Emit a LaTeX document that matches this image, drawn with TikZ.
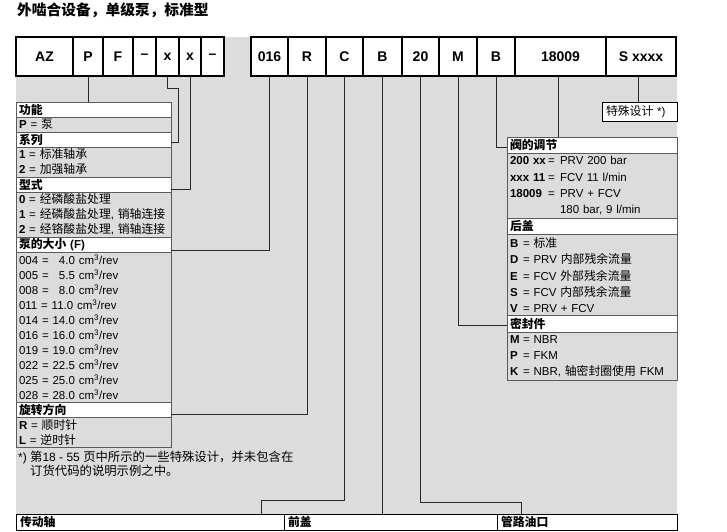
\documentclass[tikz,border=0pt]{standalone}
\usepackage{fontspec}
\setmainfont{Liberation Sans}
\newfontfamily\cjkfont{Noto Sans CJK SC}[Scale=1.03]
\newcommand\zh[1]{{\cjkfont #1}}
\definecolor{panelgray}{RGB}{220,220,220}
\definecolor{legline}{RGB}{90,90,90}
\definecolor{connline}{RGB}{40,40,40}
\newcommand\lgfont{\fontsize{11.5}{15}\selectfont}
\newcommand\rgfont{\fontsize{11.5}{16.25}\selectfont}
\begin{document}
\begin{tikzpicture}[x=1pt,y=-1pt,
  code/.style={draw=black, line width=1.2pt, fill=white, outer sep=0pt,
    font=\fontsize{14}{16}\selectfont\bfseries, minimum height=39pt,
    inner sep=0pt, anchor=north west},
  lhdr/.style={draw=legline, line width=1pt, fill=white, outer sep=0pt,
    font=\lgfont\bfseries, minimum width=155pt, minimum height=15pt,
    inner xsep=3pt, inner ysep=0pt, text width=149pt, align=left, anchor=north west},
  lgrp/.style={lhdr, fill=panelgray, font=\lgfont},
  rhdr/.style={lhdr, font=\rgfont\bfseries, minimum width=170pt, text width=164pt, minimum height=16.25pt},
  rgrp/.style={rhdr, fill=panelgray, font=\rgfont},
  bbox/.style={draw=black, line width=1pt, fill=white, outer sep=0pt,
    font=\lgfont\bfseries, minimum height=16pt, inner xsep=4pt, inner ysep=0pt,
    align=left, anchor=north west},
  conn/.style={draw=connline, line width=0.9pt},
]
\useasboundingbox (0,0) rectangle (727,531);
% background panel
\fill[panelgray] (16,37) rectangle (677,530);
% title
\node[anchor=west, inner sep=0pt, font=\fontsize{14.3}{16}\selectfont\bfseries] (title) at (17,10)
  {\zh{外啮合设备，单级泵，标准型}};
% code row
\node[code, minimum width=57pt] (cAZ) at (16,37) {AZ};
\node[code, minimum width=30pt] (cP) at (73,37) {P};
\node[code, minimum width=30pt] (cF) at (103,37) {F};
\node[code, minimum width=23pt] (cD1) at (133,37) {--};
\node[code, minimum width=23pt] (cX1) at (156,37) {x};
\node[code, minimum width=22pt] (cX2) at (179,37) {x};
\node[code, minimum width=23pt] (cD2) at (201,37) {--};
\node[code, minimum width=37pt] (c016) at (251,37) {016};
\node[code, minimum width=38pt] (cR) at (288,37) {R};
\node[code, minimum width=37pt] (cC) at (326,37) {C};
\node[code, minimum width=39pt] (cB) at (363,37) {B};
\node[code, minimum width=37pt] (c20) at (402,37) {20};
\node[code, minimum width=38pt] (cM) at (439,37) {M};
\node[code, minimum width=38pt] (cB2) at (477,37) {B};
\node[code, minimum width=91pt] (c18009) at (515,37) {18009};
\node[code, minimum width=70pt] (cS) at (606,37) {S xxxx};
% left legend
\node[lhdr] (hFunc) at (16,102) {\zh{功能}};
\node[lgrp, minimum height=15pt] (gFunc) at (hFunc.south west) {\textbf{P} = \zh{泵}};
\node[lhdr] (hSer) at (gFunc.south west) {\zh{系列}};
\node[lgrp, minimum height=30pt] (gSer) at (hSer.south west)
  {\textbf{1} = \zh{标准轴承}\\ \textbf{2} = \zh{加强轴承}};
\node[lhdr] (hType) at (gSer.south west) {\zh{型式}};
\node[lgrp, minimum height=45pt] (gType) at (hType.south west)
  {\textbf{0} = \zh{经磷酸盐处理}\\ \textbf{1} = \zh{经磷酸盐处理}, \zh{销轴连接}\\ \textbf{2} = \zh{经铬酸盐处理}, \zh{销轴连接}};
\node[lhdr] (hSize) at (gType.south west) {\zh{泵的大小} (F)};
\node[lgrp, minimum height=150pt] (gSize) at (hSize.south west)
  {004 = \phantom{1}4.0 cm\textsuperscript{3}/rev\\
   005 = \phantom{1}5.5 cm\textsuperscript{3}/rev\\
   008 = \phantom{1}8.0 cm\textsuperscript{3}/rev\\
   011 = 11.0 cm\textsuperscript{3}/rev\\
   014 = 14.0 cm\textsuperscript{3}/rev\\
   016 = 16.0 cm\textsuperscript{3}/rev\\
   019 = 19.0 cm\textsuperscript{3}/rev\\
   022 = 22.5 cm\textsuperscript{3}/rev\\
   025 = 25.0 cm\textsuperscript{3}/rev\\
   028 = 28.0 cm\textsuperscript{3}/rev};
\node[lhdr] (hRot) at (gSize.south west) {\zh{旋转方向}};
\node[lgrp, minimum height=30pt] (gRot) at (hRot.south west)
  {\textbf{R} = \zh{顺时针}\\ \textbf{L} = \zh{逆时针}};
% footnote
\node[anchor=north west, inner sep=0pt, align=left, font=\fontsize{12}{14}\selectfont] (foot) at (18,451)
  {*) \zh{第}18 - 55 \zh{页中所示的一些特殊设计，并未包含在}\\
   \phantom{*) }\zh{订货代码的说明示例之中。}};
% special design box
\node[draw=black, line width=0.9pt, fill=white, outer sep=0pt, anchor=north west,
  minimum width=75pt, minimum height=19pt, inner xsep=4pt, inner ysep=0pt,
  text width=67pt, align=left, font=\lgfont] (special) at (602,102) {\zh{特殊设计} *)};
% right legend
\node[rhdr] (hValve) at (507,137) {\zh{阀的调节}};
\node[rgrp, minimum height=65pt] (gValve) at (hValve.south west)
  {\makebox[38pt][l]{\textbf{200 xx}}\makebox[12pt][l]{=}PRV 200 bar\\
   \makebox[38pt][l]{\textbf{xxx 11}}\makebox[12pt][l]{=}FCV 11 l/min\\
   \makebox[38pt][l]{\textbf{18009}}\makebox[12pt][l]{=}PRV + FCV\\
   \makebox[38pt][l]{}\makebox[12pt][l]{}180 bar, 9 l/min};
\node[rhdr] (hRear) at (gValve.south west) {\zh{后盖}};
\node[rgrp, minimum height=81.25pt] (gRear) at (hRear.south west)
  {\makebox[13pt][l]{\textbf{B}}= \zh{标准}\\
   \makebox[13pt][l]{\textbf{D}}= PRV \zh{内部残余流量}\\
   \makebox[13pt][l]{\textbf{E}}= FCV \zh{外部残余流量}\\
   \makebox[13pt][l]{\textbf{S}}= FCV \zh{内部残余流量}\\
   \makebox[13pt][l]{\textbf{V}}= PRV + FCV};
\node[rhdr] (hSeal) at (gRear.south west) {\zh{密封件}};
\node[rgrp, minimum height=48.75pt] (gSeal) at (hSeal.south west)
  {\makebox[13pt][l]{\textbf{M}}= NBR\\
   \makebox[13pt][l]{\textbf{P}}= FKM\\
   \makebox[13pt][l]{\textbf{K}}= NBR, \zh{轴密封圈使用} FKM};
% bottom row
\node[bbox, minimum width=268pt, text width=260pt] (bShaft) at (16,514) {\zh{传动轴}};
\node[bbox, minimum width=213pt, text width=205pt] (bFront) at (284,514) {\zh{前盖}};
\node[bbox, minimum width=180pt, text width=172pt] (bPort) at (497,514) {\zh{管路油口}};
% connectors
\coordinate (k1) at (178,88);
\coordinate (k2) at (261,500);
\coordinate (k3) at (521,502);
\draw[conn] (cP.south) -- (cP.south |- hFunc.north);
\draw[conn] (cX1.south) |- (k1) |- ([yshift=-3pt]hSer.east);
\draw[conn] (cX2.south) |- ([yshift=-4.5pt]hType.east);
\draw[conn] (c016.south) |- ([yshift=-6pt]hSize.east);
\draw[conn] (cR.south) |- ([yshift=-4.5pt]hRot.east);
\draw[conn] (cC.south) |- (k2) -- (k2 |- bShaft.north);
\draw[conn] (cB.south) -- (cB.south |- bFront.north);
\draw[conn] (c20.south) |- (k3) -- (k3 |- bPort.north);
\draw[conn] (cM.south) |- ([yshift=-2pt]hSeal.west);
\draw[conn] (cB2.south) |- ([yshift=-2pt]hValve.west);
\draw[conn] ([xshift=-2pt]c18009.south) -- ([xshift=-2pt]c18009.south |- hValve.north);
\draw[conn] ([xshift=-3pt]cS.south) -- ([xshift=-3pt]cS.south |- special.north);
\end{tikzpicture}
\end{document}
